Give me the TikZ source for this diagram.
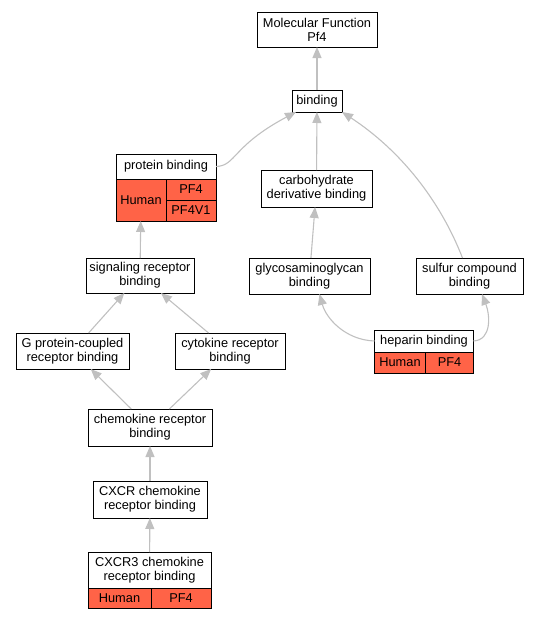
\documentclass[tikz,border=0pt]{standalone}
\usepackage{fontspec}
\setmainfont{Liberation Sans}
\usepackage{tikz}
\usetikzlibrary{arrows.meta}
\definecolor{tomato}{HTML}{FF6347}
\definecolor{edgegray}{HTML}{C0C0C0}
\newcommand\termfont{\fontsize{12.8}{14}\selectfont}
\tikzset{
  term/.style={draw, fill=white, line width=1pt, inner sep=0pt, outer sep=0pt, align=center, font=\termfont},
  cell/.style={draw, fill=tomato, line width=1pt, inner sep=0pt, outer sep=0pt, font=\termfont, anchor=north west},
  isa/.style={draw=edgegray, line width=1.1pt, -{Triangle[length=11pt,width=9pt,fill=edgegray]}},
}
\begin{document}
\begin{tikzpicture}[x=1pt, y=-1pt]
  \useasboundingbox (0,0) rectangle (539,621);
  % terms
  \node[term, minimum width=120, minimum height=35] (mf) at (317,29.5) {Molecular Function\\Pf4};
  \node[term, minimum width=50, minimum height=22] (bind) at (317,101) {binding};
  \node[term, minimum width=100, minimum height=25] (pb) at (166,166.5) {protein binding};
  \node[cell, minimum width=50, minimum height=42] (pbhuman) at (pb.south west) {Human};
  \node[cell, minimum width=50, minimum height=21] (pbpf4) at (pbhuman.north east) {PF4};
  \node[cell, minimum width=50, minimum height=21] (pbpf4v1) at (pbpf4.south west) {PF4V1};
  \node[term, minimum width=111, minimum height=37] (carb) at (316.5,188.5) {carbohydrate\\derivative binding};
  \node[term, minimum width=108, minimum height=35] (sig) at (140,275.5) {signaling receptor\\binding};
  \node[term, minimum width=121, minimum height=36] (gag) at (309.5,276) {glycosaminoglycan\\binding};
  \node[term, minimum width=107, minimum height=36] (sulf) at (469.5,276) {sulfur compound\\binding};
  \node[term, minimum width=113, minimum height=36] (gpc) at (72.5,351) {G protein-coupled\\receptor binding};
  \node[term, minimum width=110, minimum height=36] (cyto) at (230,351) {cytokine receptor\\binding};
  \node[term, minimum width=99, minimum height=22] (hep) at (424,341) {heparin binding};
  \node[cell, minimum width=51, minimum height=21] (hephuman) at (hep.south west) {Human};
  \node[cell, minimum width=48, minimum height=21] (heppf4) at (hephuman.north east) {PF4};
  \node[term, minimum width=124, minimum height=37] (chem) at (150,427.5) {chemokine receptor\\binding};
  \node[term, minimum width=114, minimum height=37] (cxcr) at (150,499.5) {CXCR chemokine\\receptor binding};
  \node[term, minimum width=123, minimum height=36] (cxcrthree) at (149.5,570) {CXCR3 chemokine\\receptor binding};
  \node[cell, minimum width=63, minimum height=20] (cthuman) at (cxcrthree.south west) {Human};
  \node[cell, minimum width=60, minimum height=20] (ctpf4) at (cthuman.north east) {PF4};
  % is_a edges
  \draw[isa] (bind) -- (mf);
  \draw[isa] (carb) -- (bind);
  \draw[isa] (gag) -- (carb);
  \draw[isa] (sig) -- (pbhuman);
  \draw[isa] (gpc) -- (sig);
  \draw[isa] (cyto) -- (sig);
  \draw[isa] (chem) -- (gpc);
  \draw[isa] (chem) -- (cyto);
  \draw[isa] (cxcr) -- (chem);
  \draw[isa] (cxcrthree) -- (cxcr);
  \draw[isa] (pb.east) .. controls (236,166) and (232,146) .. ([xshift=4pt]bind.south west);
  \draw[isa] ([xshift=-7pt]sulf.north) .. controls (440,200) and (400,150) .. (bind.south east);
  \draw[isa] (hep.west) .. controls (345,340) and (326,318) .. ([xshift=10pt]gag.south);
  \draw[isa] (hep.east) .. controls (492,340) and (490,315) .. ([xshift=12.5pt]sulf.south);
\end{tikzpicture}
\end{document}
